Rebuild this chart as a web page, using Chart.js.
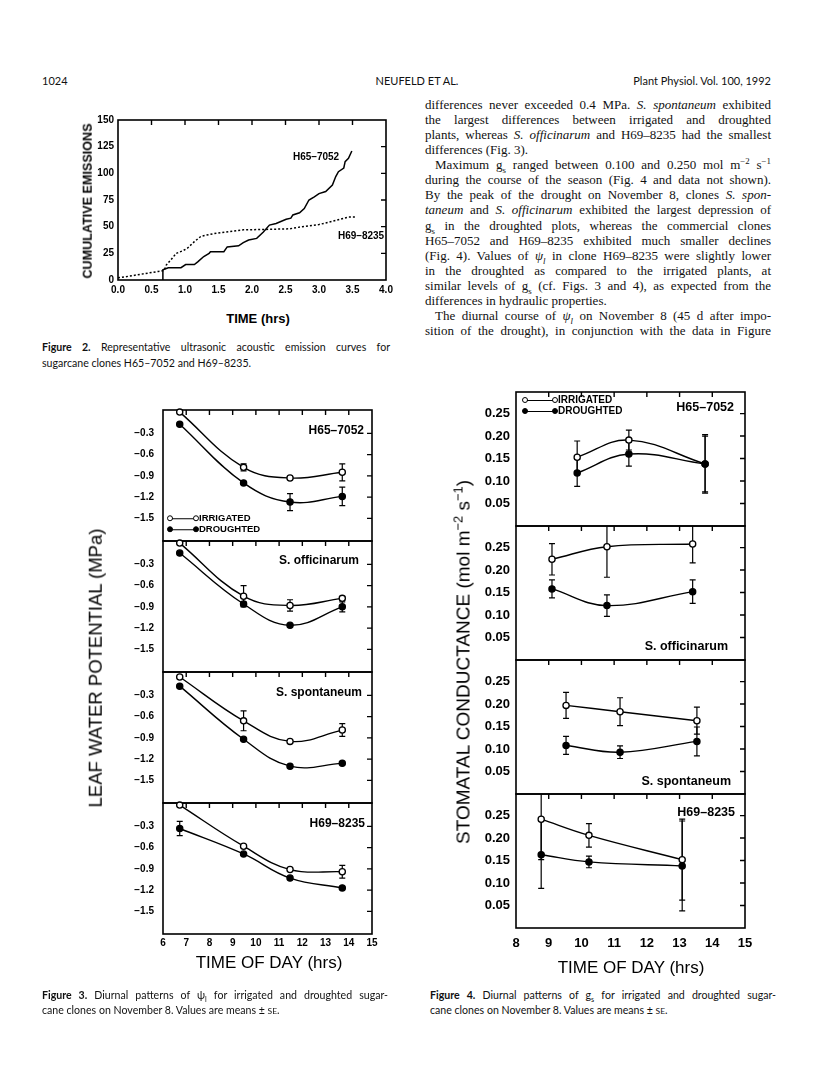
<!DOCTYPE html>
<html>
<head>
<meta charset="utf-8">
<script src="https://cdn.jsdelivr.net/npm/chart.js@4.4.1/dist/chart.umd.min.js"></script>
<style>
  body { margin: 0; background: #fff; }
  #page { position: relative; width: 816px; height: 1073px; overflow: hidden; color: #111; }
  canvas { position: absolute; }
  .t { position: absolute; white-space: nowrap; line-height: 1; }
  .l { transform: translate(0, -50%); }
  .r { transform: translate(-100%, -50%); }
  .c { transform: translate(-50%, -50%); }
  .rot { transform: translate(-50%, -50%) rotate(-90deg); }
  .hd { font-family: Lato, "Open Sans", sans-serif; font-size: 11px; }
  .cap { font-family: Lato, "Open Sans", sans-serif; font-size: 10.6px; }
  .fb { font-family: "Liberation Sans", Arial, sans-serif; font-weight: bold; color: #000; }
  .ft { font-family: "Liberation Sans", Arial, sans-serif; color: #000; }
  sub, sup { line-height: 0; font-size: 68%; }
  #col { position: absolute; left: 425px; top: 97px; width: 346px;
         font-family: "Liberation Serif", serif; font-size: 13px; }
  #col div { height: 15.07px; line-height: 15.07px; white-space: nowrap; }
  .ind { padding-left: 10px; }
  .oc, .fc { display: inline-block; width: 4px; height: 4px; border: 1.2px solid #000;
             border-radius: 50%; background: #fff; vertical-align: middle; }
  .fc { background: #000; }
  .dash { display: inline-block; width: 22px; border-top: 1.3px solid #000;
          vertical-align: middle; margin: 0 -1px; }
  .sc { font-size: 80%; }
</style>
</head>
<body>
<div id="page">
  <!-- running head -->
  <div class="t hd l" style="left:42px;top:80px">1024</div>
  <div class="t hd c" style="left:417px;top:80px">NEUFELD ET AL.</div>
  <div class="t hd r" style="left:771px;top:80px">Plant Physiol. Vol. 100, 1992</div>

  <!-- right column text -->
  <div id="col">
    <div class="j"><span>differences never exceeded 0.4 MPa. <i>S. spontaneum</i> exhibited</span></div>
    <div class="j"><span>the largest differences between irrigated and droughted</span></div>
    <div class="j"><span>plants, whereas <i>S. officinarum</i> and H69–8235 had the smallest</span></div>
    <div><span>differences (Fig. 3).</span></div>
    <div class="j ind"><span>Maximum g<sub>s</sub> ranged between 0.100 and 0.250 mol m<sup>−2</sup> s<sup>−1</sup></span></div>
    <div class="j"><span>during the course of the season (Fig. 4 and data not shown).</span></div>
    <div class="j"><span>By the peak of the drought on November 8, clones <i>S. spon-</i></span></div>
    <div class="j"><span><i>taneum</i> and <i>S. officinarum</i> exhibited the largest depression of</span></div>
    <div class="j"><span>g<sub>s</sub> in the droughted plots, whereas the commercial clones</span></div>
    <div class="j"><span>H65–7052 and H69–8235 exhibited much smaller declines</span></div>
    <div class="j"><span>(Fig. 4). Values of <i>ψ<sub>l</sub></i> in clone H69–8235 were slightly lower</span></div>
    <div class="j"><span>in the droughted as compared to the irrigated plants, at</span></div>
    <div class="j"><span>similar levels of g<sub>s</sub> (cf. Figs. 3 and 4), as expected from the</span></div>
    <div><span>differences in hydraulic properties.</span></div>
    <div class="j ind"><span>The diurnal course of <i>ψ<sub>l</sub></i> on November 8 (45 d after impo-</span></div>
    <div class="j"><span>sition of the drought), in conjunction with the data in Figure</span></div>
  </div>

  <!-- figure 2 -->
  <canvas id="fig2"></canvas>
  <div class="t fb rot" style="left:88px;top:201px;font-size:12.6px">CUMULATIVE EMISSIONS</div>
  <div class="t fb c" style="left:258px;top:318px;font-size:13px">TIME (hrs)</div>
  <div class="t fb l" style="left:293px;top:157px;font-size:10px">H65–7052</div>
  <div class="t fb l" style="left:338px;top:236px;font-size:10px">H69–8235</div>
  <div class="t cap j l" data-w="348" style="left:42px;top:347px"><span><b>Figure 2.</b> Representative ultrasonic acoustic emission curves for</span></div>
  <div class="t cap l" style="left:42px;top:363px">sugarcane clones H65–7052 and H69–8235.</div>

  <!-- figure 3 -->
  <canvas id="f3p0"></canvas><canvas id="f3p1"></canvas><canvas id="f3p2"></canvas><canvas id="f3p3"></canvas>
  <div class="t ft rot" style="left:96px;top:668px;font-size:18.5px">LEAF WATER POTENTIAL (MPa)</div>
  <div class="t ft c" style="left:269px;top:962px;font-size:17px">TIME OF DAY (hrs)</div>
  <div class="t fb r" style="left:364px;top:430px;font-size:12px">H65–7052</div>
  <div class="t fb r" style="left:359px;top:560px;font-size:12px">S. officinarum</div>
  <div class="t fb r" style="left:362px;top:692px;font-size:12px">S. spontaneum</div>
  <div class="t fb r" style="left:365px;top:823px;font-size:12px">H69–8235</div>
  <div class="t fb l" style="left:167px;top:518px;font-size:9.5px"><span class="oc"></span><span class="dash"></span><span class="oc"></span>IRRIGATED</div>
  <div class="t fb l" style="left:167px;top:529px;font-size:9.5px"><span class="fc"></span><span class="dash"></span><span class="fc"></span>DROUGHTED</div>
  <div class="t cap j l" data-w="346" style="left:42px;top:995px"><span><b>Figure 3.</b> Diurnal patterns of ψ<sub>l</sub> for irrigated and droughted sugar-</span></div>
  <div class="t cap l" style="left:42px;top:1010px">cane clones on November 8. Values are means ± <span class="sc">SE</span>.</div>

  <!-- figure 4 -->
  <canvas id="f4p0"></canvas><canvas id="f4p1"></canvas><canvas id="f4p2"></canvas><canvas id="f4p3"></canvas>
  <div class="t ft rot" style="left:463px;top:662px;font-size:19px">STOMATAL CONDUCTANCE (mol m<sup>−2</sup> s<sup>−1</sup>)</div>
  <div class="t ft c" style="left:631px;top:967px;font-size:17px">TIME OF DAY (hrs)</div>
  <div class="t fb r" style="left:734px;top:407px;font-size:12.5px">H65–7052</div>
  <div class="t fb r" style="left:728px;top:646px;font-size:12.5px">S. officinarum</div>
  <div class="t fb r" style="left:731px;top:781px;font-size:12.5px">S. spontaneum</div>
  <div class="t fb r" style="left:735px;top:812px;font-size:12.5px">H69–8235</div>
  <div class="t fb l" style="left:522px;top:400px;font-size:10px"><span class="oc"></span><span class="dash" style="width:26px"></span><span class="oc"></span>IRRIGATED</div>
  <div class="t fb l" style="left:522px;top:411px;font-size:10px"><span class="fc"></span><span class="dash" style="width:26px"></span><span class="fc"></span>DROUGHTED</div>
  <div class="t cap j l" data-w="346" style="left:430px;top:995px"><span><b>Figure 4.</b> Diurnal patterns of g<sub>s</sub> for irrigated and droughted sugar-</span></div>
  <div class="t cap l" style="left:430px;top:1010px">cane clones on November 8. Values are means ± <span class="sc">SE</span>.</div>
</div>

<script>
// ---- Figure 2: cumulative acoustic emissions
const h65Time = [0.67, 0.67, 0.75, 0.94, 1.01, 1.14, 1.19, 1.28, 1.36, 1.38, 1.58, 1.63, 1.80, 1.87, 1.95,
  2.07, 2.17, 2.26, 2.36, 2.51, 2.58, 2.61, 2.71, 2.78, 2.85, 2.93, 3.00, 3.10, 3.20, 3.25, 3.29, 3.37, 3.39, 3.44, 3.49];
const h65Count = [0, 9.5, 11.5, 11.5, 14.5, 14.5, 17, 22, 25, 26.5, 26.5, 31, 32, 35, 37.5,
  39, 45, 51.5, 53, 57, 58, 61, 63, 67, 75, 78, 81, 83, 89, 97, 101.5, 105, 111, 114, 121];
const h69Time = [0, 0.21, 0.40, 0.60, 0.69, 0.72, 0.79, 0.87, 0.97, 1.04, 1.14, 1.24, 1.31, 1.48, 1.73,
  1.87, 2.26, 2.56, 2.75, 3.00, 3.20, 3.44, 3.56];
const h69Count = [2, 4, 6, 8, 9, 14, 19, 25, 27.5, 30, 36, 41, 42, 44, 46, 47, 47.5, 48, 50, 52, 55, 59, 59];
const emitXTicks = [0, 0.5, 1, 1.5, 2, 2.5, 3, 3.5, 4];
const emitYTicks = [0, 25, 50, 75, 100, 125, 150];

// ---- Figure 3: leaf water potential (MPa)
const lwpTime = [6.72, 9.47, 11.47, 13.72];
const lwpIrr = [
  [0.0, -0.78, -0.93, -0.85],
  [0.0, -0.75, -0.88, -0.78],
  [-0.04, -0.66, -0.95, -0.79],
  [0.0, -0.58, -0.91, -0.94]];
const lwpIrrSe = [
  [0, 0.05, 0.02, 0.12],
  [0, 0.15, 0.08, 0.03],
  [0, 0.14, 0, 0.09],
  [0, 0, 0, 0.09]];
const lwpDro = [
  [-0.17, -1.0, -1.27, -1.19],
  [-0.14, -0.86, -1.16, -0.90],
  [-0.17, -0.92, -1.30, -1.26],
  [-0.33, -0.69, -1.03, -1.17]];
const lwpDroSe = [
  [0, 0, 0.12, 0.13],
  [0, 0.03, 0, 0.07],
  [0, 0, 0, 0],
  [0.1, 0, 0, 0]];
const lwpYTicks = [-0.3, -0.6, -0.9, -1.2, -1.5];
const lwpXTicks = [6, 7, 8, 9, 10, 11, 12, 13, 14, 15];

// ---- Figure 4: stomatal conductance (mol m-2 s-1)
const gsTime = [
  [9.87, 11.45, 13.78],
  [9.10, 10.78, 13.40],
  [9.53, 11.18, 13.53],
  [8.77, 10.23, 13.08]];
const gsIrr = [
  [0.153, 0.191, 0.138],
  [0.224, 0.252, 0.258],
  [0.197, 0.183, 0.163],
  [0.242, 0.206, 0.152]];
const gsIrrSe = [
  [0.036, 0.022, 0.062],
  [0.035, 0.068, 0.042],
  [0.029, 0.031, 0.030],
  [0.090, 0.026, 0.090]];
const gsDro = [
  [0.118, 0.160, 0.138],
  [0.158, 0.121, 0.152],
  [0.108, 0.093, 0.117],
  [0.163, 0.147, 0.138]];
const gsDroSe = [
  [0.030, 0.027, 0.065],
  [0.020, 0.024, 0.026],
  [0.020, 0.014, 0.032],
  [0.075, 0.013, 0.100]];
const gsYTicks = [0.05, 0.10, 0.15, 0.20, 0.25];
const gsXTicks = [8, 9, 10, 11, 12, 13, 14, 15];

// justify single lines by stretching word spacing
document.querySelectorAll('.j').forEach((el) => {
  const span = el.firstElementChild;
  const target = el.dataset.w ? +el.dataset.w : 346 - (el.classList.contains('ind') ? 10 : 0);
  const nat = span.getBoundingClientRect().width;
  const n = (span.textContent.match(/ /g) || []).length;
  if (n) span.style.wordSpacing = (target - nat) / n + 'px';
});

// box, inward tick marks on top/right, error bars
function frame(xMarks, yMarks) {
  return {
    id: 'frame',
    beforeDatasetsDraw(chart) {
      const { ctx, chartArea: a, scales: { x, y } } = chart;
      ctx.save();
      ctx.beginPath();
      ctx.rect(a.left, a.top, a.width, a.height);
      ctx.clip();
      ctx.strokeStyle = '#000';
      ctx.lineWidth = 1.2;
      chart.data.datasets.forEach((ds, i) => {
        if (!ds.se) return;
        const pts = chart.getDatasetMeta(i).data;
        ds.se.forEach((e, j) => {
          if (!e) return;
          const px = pts[j].x;
          const top = y.getPixelForValue(ds.data[j].y + e);
          const bot = y.getPixelForValue(ds.data[j].y - e);
          ctx.beginPath();
          ctx.moveTo(px, top); ctx.lineTo(px, bot);
          ctx.moveTo(px - 3, top); ctx.lineTo(px + 3, top);
          ctx.moveTo(px - 3, bot); ctx.lineTo(px + 3, bot);
          ctx.stroke();
        });
      });
      ctx.restore();

      ctx.save();
      ctx.strokeStyle = '#000';
      ctx.lineWidth = 1.6;
      ctx.strokeRect(a.left, a.top, a.width, a.height);
      ctx.lineWidth = 1.4;
      ctx.beginPath();
      xMarks.forEach((v) => {
        const px = x.getPixelForValue(v);
        ctx.moveTo(px, a.top); ctx.lineTo(px, a.top + 5);
      });
      yMarks.forEach((v) => {
        const py = y.getPixelForValue(v);
        ctx.moveTo(a.right, py); ctx.lineTo(a.right - 5, py);
      });
      ctx.stroke();
      ctx.restore();
    },
  };
}

function panel(id, geo, cfg) {
  const cv = document.getElementById(id);
  cv.width = geo.padL + geo.w + geo.padR;
  cv.height = geo.padT + geo.h + geo.padB;
  cv.style.left = geo.x - geo.padL + 'px';
  cv.style.top = geo.y - geo.padT + 'px';
  return new Chart(cv, {
    type: 'scatter',
    data: { datasets: cfg.datasets },
    options: {
      responsive: false,
      animation: false,
      devicePixelRatio: 1,
      layout: { autoPadding: false, padding: { top: geo.padT, right: geo.padR, left: 0, bottom: 0 } },
      plugins: { legend: { display: false }, tooltip: { enabled: false } },
      scales: {
        x: {
          type: 'linear', min: cfg.xMin, max: cfg.xMax,
          grid: { display: false, drawTicks: false }, border: { display: false },
          ticks: { display: cfg.xLabels, padding: cfg.xPad, color: '#000', font: cfg.font,
                   maxRotation: 0, autoSkip: false, callback: cfg.xFmt },
          afterBuildTicks: (s) => { s.ticks = cfg.xTicks.map((v) => ({ value: v })); },
          afterFit: (s) => {
            s.height = geo.padB;
            s.paddingLeft = 0; s.paddingRight = 0;
          },
        },
        y: {
          type: 'linear', min: cfg.yMin, max: cfg.yMax,
          grid: { display: false, drawTicks: false }, border: { display: false },
          ticks: { padding: cfg.yPad, color: '#000', font: cfg.font, autoSkip: false, callback: cfg.yFmt },
          afterBuildTicks: (s) => { s.ticks = cfg.yTicks.map((v) => ({ value: v })); },
          afterFit: (s) => {
            s.width = geo.padL;
            s.paddingTop = 0; s.paddingBottom = 0;
          },
        },
      },
    },
    plugins: [frame(cfg.xMarks, cfg.yMarks)],
  });
}

const pts = (xs, ys) => xs.map((x, i) => ({ x: x, y: ys[i] }));

function series(xs, ys, se, open, clip) {
  return {
    data: pts(xs, ys),
    se: se,
    showLine: true,
    tension: 0.4,
    borderColor: '#000',
    borderWidth: 1.4,
    pointRadius: 3.1,
    pointBorderWidth: 1.3,
    pointBorderColor: '#000',
    pointBackgroundColor: open ? '#fff' : '#000',
    clip: clip,
  };
}

// BEGIN: FIGURE 2
panel('fig2', { x: 118, y: 120, w: 268, h: 160, padL: 58, padR: 22, padT: 14, padB: 24 }, {
  datasets: [
    { data: pts(h65Time, h65Count), showLine: true, borderColor: '#000', borderWidth: 1.5, pointRadius: 0 },
    { data: pts(h69Time, h69Count), showLine: true, borderColor: '#000', borderWidth: 1.5,
      borderDash: [2, 2], pointRadius: 0 },
  ],
  xMin: 0, xMax: 4, yMin: 0, yMax: 150,
  xTicks: emitXTicks, yTicks: emitYTicks,
  xMarks: emitXTicks.slice(1, -1), yMarks: emitYTicks.slice(1, -1),
  xLabels: true, xPad: 4, yPad: 4,
  font: { family: 'Liberation Sans', weight: 'bold', size: 10 },
  xFmt: (v) => v.toFixed(1), yFmt: (v) => String(v),
});
// END: FIGURE 2

// BEGIN: FIGURE 3
const f3Tops = [410, 541, 672, 803];
f3Tops.forEach((top, i) => {
  const last = i === f3Tops.length - 1;
  panel('f3p' + i, { x: 163, y: top, w: 209, h: 131, padL: 60, padR: 12, padT: 8, padB: last ? 22 : 8 }, {
    datasets: [
      series(lwpTime, lwpDro[i], lwpDroSe[i], false, false),
      series(lwpTime, lwpIrr[i], lwpIrrSe[i], true, false),
    ],
    xMin: 6, xMax: 15, yMin: -1.82, yMax: 0.03,
    xTicks: lwpXTicks, yTicks: lwpYTicks,
    xMarks: lwpXTicks.slice(1, -1), yMarks: lwpYTicks,
    xLabels: last, xPad: 3, yPad: 9,
    font: { family: 'Liberation Sans', weight: 'bold', size: 10 },
    xFmt: (v) => String(v), yFmt: (v) => '−' + Math.abs(v).toFixed(1),
  });
});
// END: FIGURE 3

// BEGIN: FIGURE 4
const f4Tops = [392, 526, 660, 794];
f4Tops.forEach((top, i) => {
  const last = i === f4Tops.length - 1;
  panel('f4p' + i, { x: 516, y: top, w: 229, h: 134, padL: 56, padR: 14, padT: 8, padB: last ? 28 : 8 }, {
    datasets: [
      series(gsTime[i], gsDro[i], gsDroSe[i], false, true),
      series(gsTime[i], gsIrr[i], gsIrrSe[i], true, true),
    ],
    xMin: 8, xMax: 15, yMin: 0, yMax: 0.298,
    xTicks: gsXTicks, yTicks: gsYTicks,
    xMarks: gsXTicks.slice(1, -1), yMarks: gsYTicks,
    xLabels: last, xPad: 8, yPad: 6,
    font: { family: 'Liberation Sans', weight: 'bold', size: 13 },
    xFmt: (v) => String(v), yFmt: (v) => v.toFixed(2),
  });
});
// END: FIGURE 4
</script>
</body>
</html>
